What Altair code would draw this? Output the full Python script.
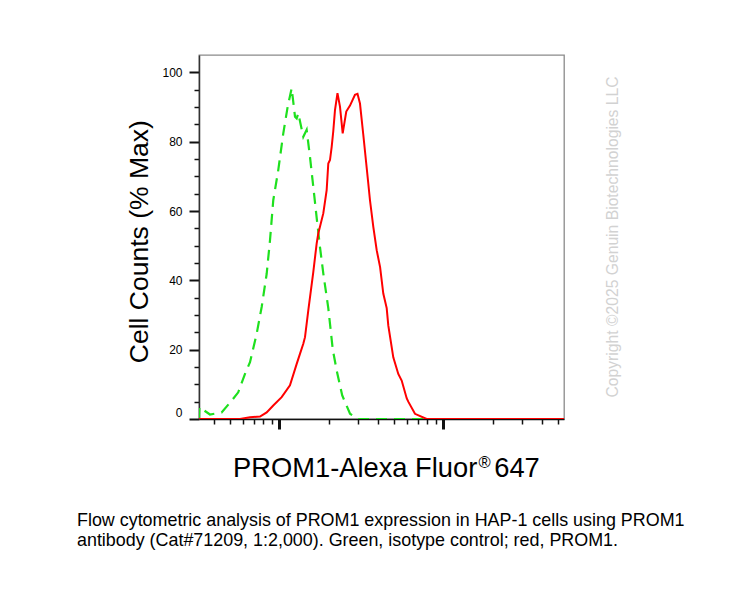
import altair as alt
import pandas as pd

# ---- data (x: fluorescence, log axis; y: % of max) ----
GREEN_X = [324, 326, 378, 445, 513, 562, 618, 663, 728, 781,
           838, 878, 919, 986, 1058, 1125, 1190, 1247, 1277, 1306,
           1401, 1469, 1539, 1612, 1700, 1771, 1855, 1990, 2120, 2239,
           2420, 2700, 3032, 54450]
GREEN_Y = [0, 3.4, 1.3, 1.9, 5.3, 7.7, 13.0, 16.4, 24.6, 32.3,
           41.9, 51.6, 63.1, 71.8, 82.4, 90.1, 95.4, 87.2, 86.7, 88.2,
           81.4, 83.4, 75.6, 67.0, 57.0, 49.6, 42.0, 32.0, 20.0, 14.0,
           6.8, 1.5, 0, 0]

RED_X = [324, 576, 663, 763, 838, 919, 1034, 1162, 1277, 1337,
         1401, 1435, 1503, 1612, 1690, 1729, 1855, 1945, 1990, 2038,
         2087, 2134, 2186, 2264, 2345, 2436, 2561, 2699, 2894, 2999,
         3105, 3253, 3488, 3573, 3744, 3926, 4118, 4307, 4518, 4620,
         4956, 5317, 5576, 5981, 6117, 6720, 7921, 54450]
RED_Y = [0, 0, 0.5, 0.7, 1.9, 3.9, 6.3, 9.7, 15.9, 18.8,
         21.7, 23.6, 31.3, 42.4, 50.6, 53.5, 59.3, 66.0, 73.7, 74.7,
         78.5, 83.0, 89.1, 94.0, 90.1, 82.4, 88.7, 90.4, 93.5, 93.8,
         91.0, 82.0, 68.0, 63.1, 55.4, 48.7, 43.8, 36.2, 32.0, 27.0,
         17.8, 13.0, 11.1, 6.0, 5.0, 1.5, 0, 0]

X_DOMAIN = [324, 54450]
Y_DOMAIN = [0, 105]
Y_TICKS = [0, 5, 10, 15, 20, 25, 30, 35, 40, 45, 50, 55, 60, 65, 70, 75, 80, 85, 90, 95, 100]
X_TICKS = [400, 500, 600, 700, 800, 900, 1000,
           2000, 3000, 4000, 5000, 6000, 7000, 8000, 9000, 10000,
           20000, 30000, 40000, 50000]

X_TITLE_MAIN = "PROM1-Alexa Fluor"
X_TITLE_MARK = "®"
X_TITLE_END = "647"
Y_TITLE = "Cell Counts (% Max)"
CAPTION = ["Flow cytometric analysis of PROM1 expression in HAP-1 cells using PROM1",
           "antibody (Cat#71209, 1:2,000). Green, isotype control; red, PROM1."]
WATERMARK = "Copyright ©2025 Genuin Biotechnologies LLC"

FONT = "Liberation Sans, Arial, Helvetica, sans-serif"
W, H = 365, 364

green_df = pd.DataFrame({"x": GREEN_X, "y": GREEN_Y, "o": list(range(len(GREEN_X)))})
red_df = pd.DataFrame({"x": RED_X, "y": RED_Y, "o": list(range(len(RED_X)))})

x_major = "datum.value == 1000 || datum.value == 10000"
y_major = "datum.value % 20 == 0"

x_axis = alt.Axis(
    values=X_TICKS, labels=False, title=None, grid=False,
    domainColor="#111111", domainWidth=1.5, tickColor="#111111",
    tickSize={"condition": {"test": x_major, "value": 10}, "value": 5},
    tickWidth={"condition": {"test": x_major, "value": 3}, "value": 1.5},
)
y_axis = alt.Axis(
    values=Y_TICKS, title=None, grid=False,
    labelExpr="datum.value % 20 == 0 ? datum.label : ''",
    labelFont=FONT, labelFontSize=12, labelColor="#000000", labelPadding=7,
    labelFlush=True,
    domainColor="#333333", domainWidth=1.5, tickColor="#111111",
    tickSize={"condition": {"test": y_major, "value": 10}, "value": 5},
    tickWidth={"condition": {"test": y_major, "value": 2}, "value": 1.5},
)

x_enc = alt.X("x:Q", scale=alt.Scale(type="log", domain=X_DOMAIN, nice=False), axis=x_axis)
y_enc = alt.Y("y:Q", scale=alt.Scale(domain=Y_DOMAIN, nice=False), axis=y_axis)

green = alt.Chart(green_df).mark_line(
    color="#1ee01e", strokeWidth=2.2, strokeDash=[11, 7], clip=True
).encode(x=x_enc, y=y_enc, order="o:Q")

red = alt.Chart(red_df).mark_line(
    color="#ff0000", strokeWidth=2, clip=True
).encode(x=x_enc, y=y_enc, order="o:Q")


def label(text, x, y, size, **kw):
    return alt.Chart(alt.Data(values=[{"t": 0}])).mark_text(
        font=FONT, fontSize=size, **kw
    ).encode(x=alt.value(x), y=alt.value(y), text=alt.value(text))


x_title_a = label(X_TITLE_MAIN, 278.3, 421.7, 27.3, align="right", baseline="alphabetic", color="#000000")
x_title_b = label(X_TITLE_MARK, 279.6, 413.3, 16.5, align="left", baseline="alphabetic", color="#000000")
x_title_c = label(X_TITLE_END, 295.2, 421.7, 27.3, align="left", baseline="alphabetic", color="#000000")
y_title = label(Y_TITLE, -51, 186.7, 26.5, align="center", baseline="alphabetic", angle=270, color="#000000")
caption = label(CAPTION, -122, 471, 17.9, align="left", baseline="alphabetic", lineHeight=20, color="#000000")
watermark = label(WATERMARK, 419.3, 182, 15.7, align="center", baseline="alphabetic", angle=270, color="#d2d2d2")

chart = alt.layer(
    green, red, x_title_a, x_title_b, x_title_c, y_title, caption, watermark
).properties(
    width=W, height=H,
    autosize=alt.AutoSizeParams(type="none"),
    padding={"left": 199, "top": 55, "right": 186, "bottom": 188},
    background="white",
).configure_view(
    stroke="#8a8a8a", strokeWidth=1.3
)

chart.save("out.html", embed_options={"renderer": "svg", "actions": False})
